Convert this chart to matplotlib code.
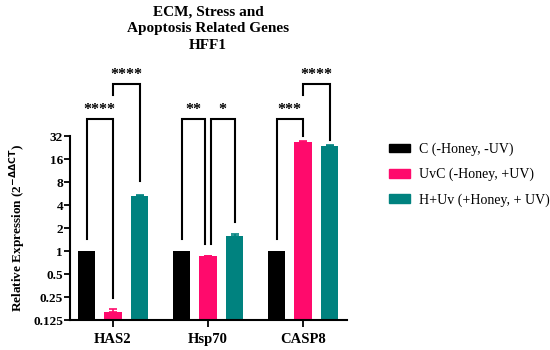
import numpy as np
import matplotlib.pyplot as plt
from matplotlib.patches import Patch

plt.rcParams['font.family'] = ['Liberation Serif', 'DejaVu Serif']

genes = ["HAS2", "Hsp70", "CASP8"]
groups = ["C (-Honey, -UV)", "UvC (-Honey, +UV)", "H+Uv (+Honey, + UV)"]
colors = ["#000000", "#FF0A6C", "#00827F"]

# 平均值与误差
c_vals = [1.0, 1.0, 1.0]
uvc_vals = [0.16, 0.86, 26.5]
huv_vals = [5.3, 1.56, 23.6]
c_err = [0.0, 0.0, 0.0]
uvc_err = [0.012, 0.01, 1.2]
huv_err = [0.1, 0.12, 0.9]

yticks = [0.125, 0.25, 0.5, 1, 2, 4, 8, 16, 32]
ytick_labels = ["0.125", "0.25", "0.5", "1", "2", "4", "8", "16", "32"]

# 显著性标记: (基因, 左组, 右组, 星号, 层级)
sig = [
    (0, 0, 1, "****", 0), (0, 1, 2, "****", 1),
    (1, 0, 1, "**", 0), (1, 1, 2, "*", 0),
    (2, 0, 1, "***", 0), (2, 1, 2, "****", 1),
]

fig = plt.figure(figsize=(5.5, 3.5), dpi=100)
ax = fig.add_axes([0.1273, 0.0857, 0.5036, 0.5257])

x = np.arange(len(genes))
offset = 0.279
width = 0.184
all_vals = [c_vals, uvc_vals, huv_vals]
all_err = [c_err, uvc_err, huv_err]
for i, (vals, errs) in enumerate(zip(all_vals, all_err)):
    xi = x + (i - 1) * offset
    ax.bar(xi, vals, width=width, color=colors[i], bottom=0.0, zorder=2)
    if i > 0:
        ax.errorbar(xi, vals, yerr=[np.zeros(3), errs], fmt="none",
                    ecolor=colors[i], elinewidth=1.2, capsize=3, capthick=1.2, zorder=3)

ax.set_yscale("log", base=2)
ax.set_ylim(0.125, 32)
ax.set_xlim(-0.453, 2.463)
ax.set_yticks(yticks)
ax.set_yticklabels(ytick_labels)
ax.minorticks_off()
ax.set_xticks(x)
ax.set_xticklabels(genes)
for lab in ax.get_yticklabels():
    lab.set_fontweight("bold")
    lab.set_fontsize(9.5)
for lab in ax.get_xticklabels():
    lab.set_fontweight("bold")
    lab.set_fontsize(10.5)
ax.tick_params(axis="y", length=4, width=1.3, pad=1)
ax.tick_params(axis="x", length=5, width=1.3, pad=4)
for s in ["top", "right"]:
    ax.spines[s].set_visible(False)
for s in ["left", "bottom"]:
    ax.spines[s].set_linewidth(1.5)

ax.set_ylabel(r"Relative Expression (2$^{\mathbf{-\Delta\Delta CT}}$)",
              fontsize=9.5, fontweight="bold", labelpad=4)

# 画显著性括号
tops = [53.4, 153.0]
for g, a, b, stars, lvl in sig:
    xa = x[g] + (a - 1) * offset
    xb = x[g] + (b - 1) * offset
    if g == 1 and a == 0:
        xb -= 0.03
    if g == 1 and a == 1:
        xa += 0.03
    ya = all_vals[a][g] + all_err[a][g]
    yb = all_vals[b][g] + all_err[b][g]
    top = tops[lvl]
    if lvl == 1:
        la = 110.0
    else:
        la = ya * 1.43 if ya < 2 else ya * 1.16
    lb = yb * 1.43 if yb < 2 else yb * 1.16
    if g == 0 and b == 2:
        lb = yb * 1.55
    ax.plot([xa, xa, xb, xb], [la, top, top, lb], color="black", lw=1.5,
            clip_on=False, solid_joinstyle="miter")
    ax.text((xa + xb) / 2, top * 1.04, stars, ha="center", va="bottom",
            fontsize=11.5, fontweight="bold", clip_on=False)

fig.text(0.378, 0.985, "ECM, Stress and\nApoptosis Related Genes\nHFF1",
         ha="center", va="top", fontsize=11, fontweight="bold", linespacing=1.4)

handles = [Patch(facecolor=c, edgecolor=c) for c in colors]
fig.legend(handles, groups, loc="upper left", bbox_to_anchor=(0.684, 0.628),
           frameon=False, fontsize=10, handlelength=1.5, handleheight=0.55,
           labelspacing=0.85, handletextpad=0.65)

fig.savefig("out.png", dpi=100)
